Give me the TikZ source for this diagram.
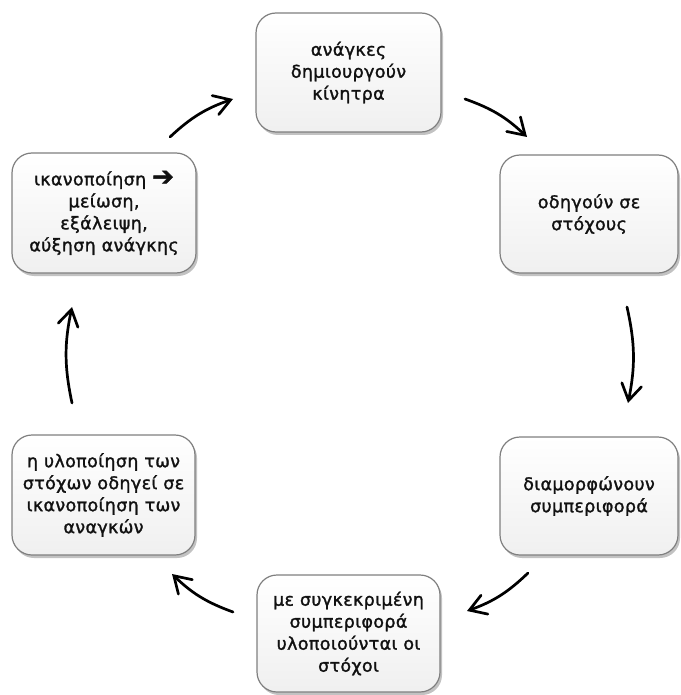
\documentclass[tikz,border=0pt]{standalone}
\usepackage{fontspec}
\setmainfont{DejaVu Sans}
\newfontfamily\stagefont{DejaVu Sans}[FakeBold=1.5, LetterSpace=2]
\newfontfamily\markfont{DejaVu Sans}[FakeBold=2]
\usetikzlibrary{arrows.meta,shadows}
\definecolor{boxline}{HTML}{7F7F7F}
\definecolor{boxtext}{HTML}{111111}
\tikzset{
  stagebox/.style={draw=boxline, line width=1.2pt, rounded corners=20pt,
    top color=white, bottom color=gray!12,
    drop shadow={shadow xshift=2pt, shadow yshift=-3pt, opacity=0.4, fill=black!60},
    align=center, text=boxtext, font=\stagefont\fontsize{17.5}{22}\selectfont, inner sep=0pt},
  cyclearrow/.style={line width=2.7pt, line cap=round,
    -{Straight Barb[length=16pt,width=20pt,line cap=round]}, bend left=12}
}
\newcommand{\heavyarrow}{{\markfont\fontsize{26}{22}\selectfont ➔}}
\begin{document}
\begin{tikzpicture}[x=1pt,y=-1pt]
\useasboundingbox (0,0) rectangle (680,695);

% the six stages of the cycle
\node[stagebox, minimum width=185pt, minimum height=119pt] (needs) at (348.5,72.5)
  {ανάγκες\\δημιουργούν\\κίνητρα};
\node[stagebox, minimum width=178pt, minimum height=118pt] (goals) at (589,214)
  {οδηγούν σε\\στόχους};
\node[stagebox, minimum width=178pt, minimum height=118pt] (behav) at (589,496)
  {διαμορφώνουν\\συμπεριφορά};
\node[stagebox, minimum width=183pt, minimum height=117pt] (reach) at (348.5,633.5)
  {με συγκεκριμένη\\συμπεριφορά\\υλοποιούνται οι\\στόχοι};
\node[stagebox, minimum width=183pt, minimum height=120pt] (satis) at (103.5,495)
  {η υλοποίηση των\\στόχων οδηγεί σε\\ικανοποίηση των\\αναγκών};
\node[stagebox, minimum width=184pt, minimum height=120pt] (result) at (104,213)
  {ικανοποίηση \heavyarrow\\μείωση,\\εξάλειψη,\\αύξηση ανάγκης};

% arrow end points between the stages
\coordinate (a1s) at (170,137); \coordinate (a1e) at (233,99);
\coordinate (a2s) at (465,99);  \coordinate (a2e) at (527,137);
\coordinate (a3s) at (627,307); \coordinate (a3e) at (628,403);
\coordinate (a4s) at (528,573); \coordinate (a4e) at (467,611);
\coordinate (a5s) at (233,612); \coordinate (a5e) at (172,574);
\coordinate (a6s) at (72,403);  \coordinate (a6e) at (72,307);

\draw[cyclearrow] (a1s) to (a1e);
\draw[cyclearrow] (a2s) to (a2e);
\draw[cyclearrow] (a3s) to (a3e);
\draw[cyclearrow] (a4s) to (a4e);
\draw[cyclearrow] (a5s) to (a5e);
\draw[cyclearrow] (a6s) to (a6e);
\end{tikzpicture}
\end{document}
